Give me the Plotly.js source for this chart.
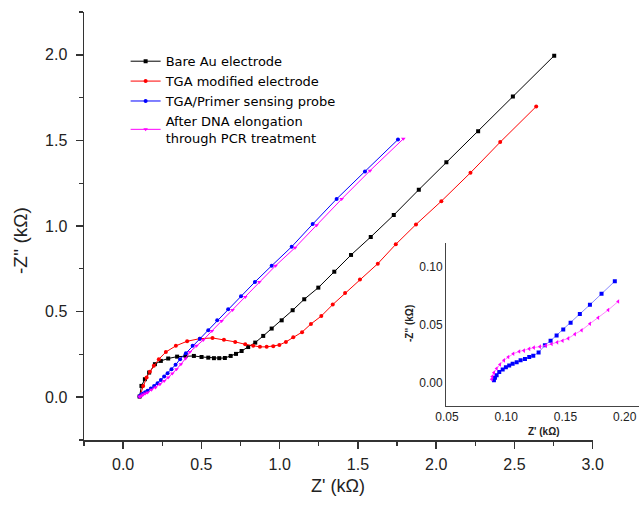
<!DOCTYPE html>
<html><head><meta charset="utf-8">
<script src="https://cdn.plot.ly/plotly-3.0.1.min.js"></script>
<style>html,body{margin:0;padding:0;background:#fff}#chart{width:639px;height:505px}</style>
</head><body><div id="chart"></div>
<script>
// Series names
const seriesNames = ["Bare Au electrode", "TGA modified electrode", "TGA/Primer sensing probe", "After DNA elongation<br>through PCR treatment"];

// Bare Au electrode (Z', -Z'' in kOhm)
const bareX = [0.105,0.117,0.139,0.166,0.203,0.241,0.288,0.345,0.399,0.452,0.501,0.544,0.580,0.614,0.650,0.687,0.721,0.757,0.799,0.844,0.895,0.949,1.013,1.083,1.157,1.247,1.349,1.456,1.582,1.729,1.889,2.065,2.268,2.490,2.754];
const bareY = [0.004,0.066,0.105,0.144,0.193,0.212,0.226,0.237,0.241,0.241,0.235,0.231,0.228,0.228,0.229,0.241,0.253,0.270,0.293,0.319,0.358,0.401,0.449,0.508,0.572,0.640,0.733,0.831,0.936,1.064,1.212,1.373,1.554,1.756,1.995];

// TGA modified electrode
const tgaX = [0.105,0.128,0.150,0.171,0.196,0.228,0.273,0.337,0.409,0.490,0.571,0.644,0.716,0.780,0.831,0.874,0.917,0.959,0.998,1.040,1.087,1.143,1.200,1.266,1.339,1.418,1.513,1.627,1.742,1.871,2.033,2.219,2.409,2.639];
const tgaY = [0.004,0.066,0.115,0.148,0.183,0.222,0.264,0.300,0.327,0.342,0.346,0.336,0.323,0.309,0.300,0.294,0.294,0.298,0.305,0.323,0.350,0.380,0.428,0.474,0.541,0.608,0.688,0.780,0.893,1.009,1.145,1.311,1.490,1.698];

// TGA/Primer sensing probe
const probeX = [0.105,0.110,0.118,0.128,0.141,0.156,0.177,0.198,0.220,0.241,0.262,0.284,0.309,0.335,0.364,0.401,0.444,0.490,0.544,0.601,0.671,0.753,0.842,0.949,1.077,1.211,1.364,1.545,1.756];
const probeY = [0.004,0.010,0.016,0.022,0.029,0.037,0.051,0.066,0.082,0.101,0.121,0.140,0.163,0.189,0.222,0.257,0.300,0.342,0.391,0.449,0.513,0.589,0.673,0.768,0.879,1.011,1.158,1.319,1.505];

// After DNA elongation through PCR treatment
const pcrX = [0.105,0.112,0.120,0.128,0.141,0.156,0.181,0.207,0.235,0.262,0.288,0.314,0.341,0.369,0.399,0.426,0.469,0.512,0.567,0.629,0.699,0.780,0.870,0.974,1.098,1.236,1.396,1.577,1.790];
const pcrY = [0.002,0.006,0.010,0.016,0.021,0.027,0.043,0.057,0.076,0.095,0.115,0.138,0.163,0.193,0.226,0.264,0.300,0.334,0.387,0.445,0.509,0.585,0.673,0.768,0.873,1.005,1.157,1.323,1.509];

// Inset (high-frequency region) – probe and PCR
const insetProbeX = [0.0896,0.0905,0.0919,0.0941,0.0970,0.0997,0.1025,0.1054,0.1088,0.1121,0.1158,0.1194,0.1228,0.1273,0.1326,0.1374,0.1425,0.1481,0.1543,0.1621,0.1706,0.1804,0.1916];
const insetProbeY = [0.0019,0.0042,0.0062,0.0090,0.0112,0.0132,0.0146,0.0161,0.0174,0.0191,0.0203,0.0220,0.0231,0.0259,0.0321,0.0360,0.0406,0.0456,0.0515,0.0591,0.0670,0.0766,0.0873];
const insetPcrX = [0.0877,0.0882,0.0896,0.0919,0.0947,0.0981,0.1017,0.1059,0.1109,0.1149,0.1194,0.1233,0.1284,0.1335,0.1383,0.1430,0.1475,0.1523,0.1579,0.1636,0.1706,0.1775,0.1860,0.1944];
const insetPcrY = [0.0028,0.0051,0.0085,0.0121,0.0155,0.0191,0.0220,0.0248,0.0267,0.0275,0.0290,0.0301,0.0309,0.0318,0.0332,0.0346,0.0360,0.0380,0.0417,0.0450,0.0507,0.0558,0.0625,0.0698];

const mainXTicks = [0, 0.5, 1.0, 1.5, 2.0, 2.5, 3.0];
const mainYTicks = [0, 0.5, 1.0, 1.5, 2.0];
const insetXTicks = [0.05, 0.10, 0.15, 0.20];
const insetYTicks = [0.00, 0.05, 0.10];

const colors = ["#000000", "#ff0000", "#0000ff", "#ff00ff"];
const symbols = ["square", "circle", "circle", "triangle-down"];

function mainTrace(x, y, i) {
  return {x: x, y: y, type: "scatter", mode: "lines+markers", name: seriesNames[i],
    line: {color: colors[i], width: 1}, marker: {color: colors[i], size: 4, symbol: symbols[i]},
    xaxis: "x", yaxis: "y"};
}
const traces = [
  mainTrace(bareX, bareY, 0),
  mainTrace(tgaX, tgaY, 1),
  mainTrace(probeX, probeY, 2),
  mainTrace(pcrX, pcrY, 3),
  {x: insetProbeX, y: insetProbeY, type: "scatter", mode: "lines+markers", showlegend: false,
   line: {color: "#8888ff", width: 1}, marker: {color: "#0000ff", size: 4, symbol: "square"}, xaxis: "x2", yaxis: "y2"},
  {x: insetPcrX, y: insetPcrY, type: "scatter", mode: "lines+markers", showlegend: false,
   line: {color: "#ff88ff", width: 1}, marker: {color: "#ff00ff", size: 4, symbol: "triangle-left"}, xaxis: "x2", yaxis: "y2"}
];

const tickFont = {family: "Liberation Sans, Arial, sans-serif", size: 16, color: "#222"};
const insetFont = {family: "Liberation Sans, Arial, sans-serif", size: 12, color: "#222"};

const layout = {
  width: 639, height: 505,
  margin: {l: 84, r: 0, t: 12, b: 65, pad: 0},
  paper_bgcolor: "#fff", plot_bgcolor: "rgba(0,0,0,0)",
  showlegend: true,
  legend: {x: 0.075, y: 0.92, xanchor: "left", yanchor: "top", bgcolor: "rgba(0,0,0,0)",
    font: {family: "DejaVu Sans, sans-serif", size: 13, color: "#000"}, tracegroupgap: 0},
  xaxis: {domain: [0, 0.9166], range: [-0.25, 3.0], showgrid: false, zeroline: false,
    showline: true, linecolor: "#333", linewidth: 1.5, ticks: "outside", ticklen: 7, tickwidth: 1.5, tickcolor: "#333",
    tickvals: mainXTicks, tickformat: ".1f", tickfont: tickFont, ticklabelstandoff: 2,
    minor: {dtick: 0.25, tick0: 0, ticks: "outside", ticklen: 4, tickwidth: 1.2, tickcolor: "#333", showgrid: false}},
  yaxis: {domain: [0, 1], range: [-0.25, 2.25], showgrid: false, zeroline: false,
    showline: true, linecolor: "#333", linewidth: 1.5, ticks: "outside", ticklen: 7, tickwidth: 1.5, tickcolor: "#333",
    tickvals: mainYTicks, tickformat: ".1f", tickfont: tickFont, ticklabelstandoff: 5,
    minor: {dtick: 0.25, tick0: 0, ticks: "outside", ticklen: 4, tickwidth: 1.2, tickcolor: "#333", showgrid: false}},
  xaxis2: {domain: [0.6523, 1], range: [0.0492, 0.212], anchor: "y2", showgrid: false, zeroline: false,
    showline: true, linecolor: "#444", linewidth: 1, ticks: "", tickvals: insetXTicks, tickformat: ".2f", tickfont: insetFont},
  yaxis2: {domain: [0.0801, 0.4596], range: [-0.02, 0.12], anchor: "x2", showgrid: false, zeroline: false,
    showline: true, linecolor: "#444", linewidth: 1, ticks: "", tickvals: insetYTicks, tickformat: ".2f", tickfont: insetFont},
  annotations: [
    {text: "Z' (k\u03a9)", xref: "paper", yref: "paper", x: 0.4585, y: -0.1075, xanchor: "center", yanchor: "middle",
     showarrow: false, font: {family: "Liberation Sans, Arial, sans-serif", size: 18, color: "#222"}},
    {text: "-Z'' (k\u03a9)", xref: "paper", yref: "paper", x: -0.1135, y: 0.465, xanchor: "center", yanchor: "middle",
     textangle: -90, showarrow: false, font: {family: "Liberation Sans, Arial, sans-serif", size: 19, color: "#222"}},
    {text: "<b>Z' (k\u03a9)</b>", xref: "paper", yref: "paper", x: (544.3-84)/555, y: (440-431.7)/428, xanchor: "center", yanchor: "middle",
     showarrow: false, font: {family: "Liberation Sans, Arial, sans-serif", size: 10, color: "#222"}},
    {text: "<b>-Z'' (k\u03a9)</b>", xref: "paper", yref: "paper", x: (409.3-84)/555, y: (440-323.7)/428, xanchor: "center", yanchor: "middle",
     textangle: -90, showarrow: false, font: {family: "Liberation Sans, Arial, sans-serif", size: 10, color: "#222"}}
  ]
};

Plotly.newPlot("chart", traces, layout, {displayModeBar: false, staticPlot: true});
</script>
</body></html>
